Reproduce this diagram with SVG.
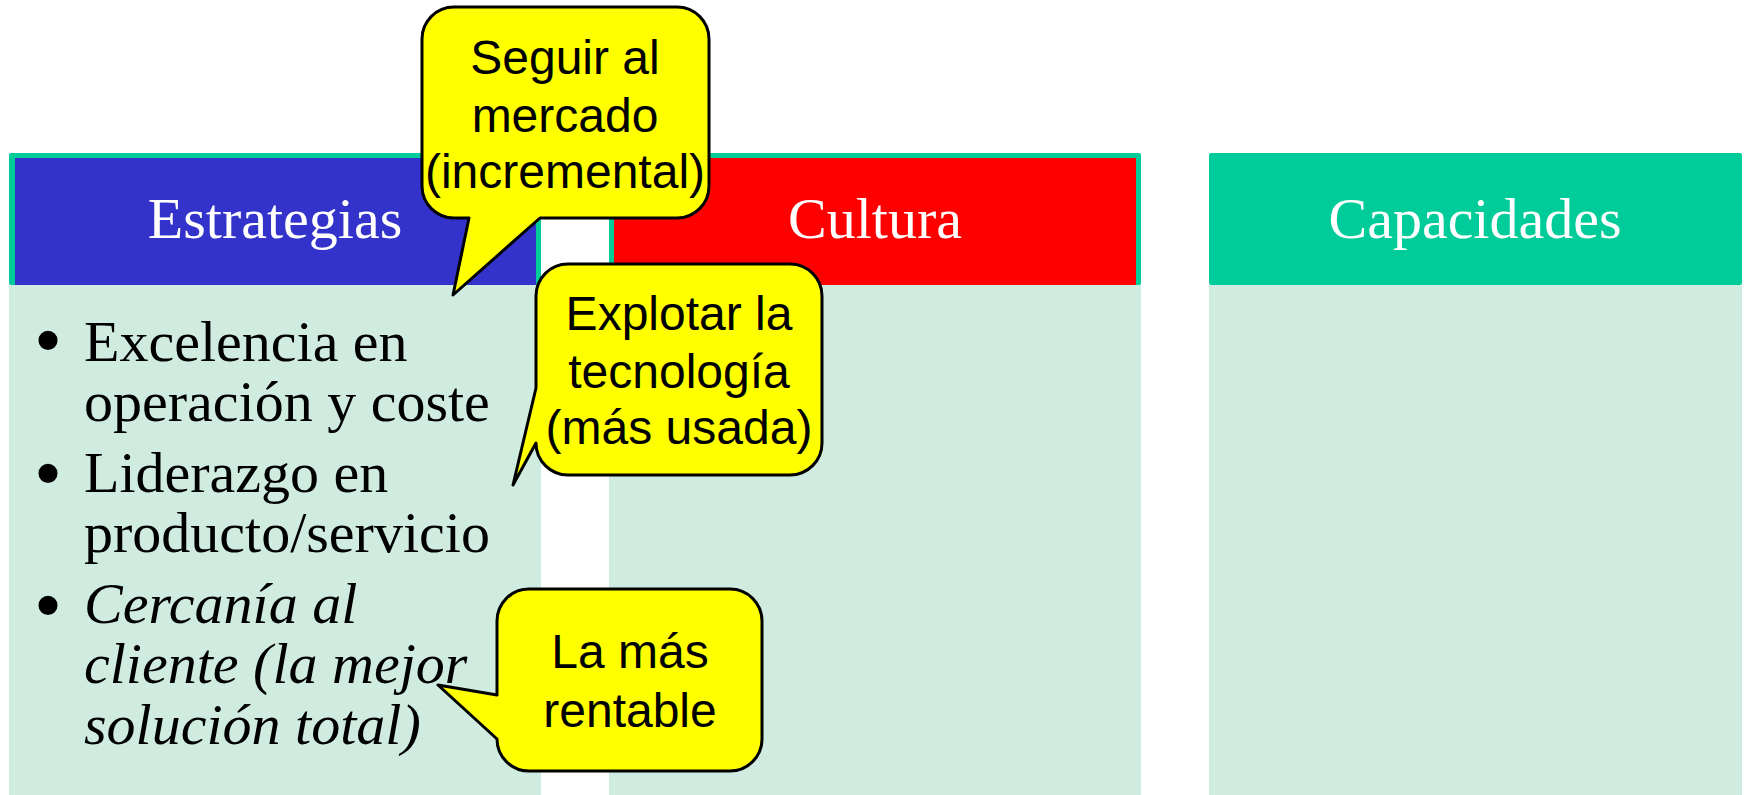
<svg xmlns="http://www.w3.org/2000/svg" width="1756" height="795" viewBox="0 0 1756 795">
<style>
.body{fill:#D0ECE0}
.frame{fill:#00CC99}
.htxt{font-family:"Liberation Serif","Times New Roman",serif;font-size:58px;fill:#FFFFFF;text-anchor:middle}
.btxt{font-family:"Liberation Serif","Times New Roman",serif;font-size:58px;fill:#000000}
.bul{font-family:"Liberation Serif","Times New Roman",serif;font-size:80px;fill:#000000}
.it{font-style:italic}
.call{fill:#FFFF00;stroke:#000000;stroke-width:3;stroke-linejoin:round}
.ctxt{font-family:"Liberation Sans",Arial,sans-serif;font-size:48px;fill:#000000;text-anchor:middle}
</style>
<rect width="1756" height="795" fill="#FFFFFF"/>
<g id="col-estrategias">
<rect class="body" x="9" y="285" width="532" height="510"/>
<rect class="frame" x="9" y="153" width="532" height="132" rx="2"/>
<rect x="15" y="158" width="521" height="127" fill="#3333CC"/>
<text class="htxt" x="275" y="238">Estrategias</text>
<text class="bul" x="34" y="367">•</text>
<text class="btxt" x="84" y="361">Excelencia en</text>
<text class="btxt" x="84" y="421">operación y coste</text>
<text class="bul" x="34" y="500">•</text>
<text class="btxt" x="84" y="492">Liderazgo en</text>
<text class="btxt" x="84" y="552">producto/servicio</text>
<text class="bul" x="34" y="632">•</text>
<text class="btxt it" x="84" y="623">Cercanía al</text>
<text class="btxt it" x="84" y="683">cliente (la mejor</text>
<text class="btxt it" x="84" y="744">solución total)</text>
</g>
<g id="col-cultura">
<rect class="body" x="609" y="285" width="532" height="510"/>
<rect class="frame" x="609" y="153" width="532" height="132" rx="2"/>
<rect x="614" y="158" width="522" height="127" fill="#FF0000"/>
<text class="htxt" x="875" y="238">Cultura</text>
</g>
<g id="col-capacidades">
<rect class="body" x="1209" y="285" width="533" height="510"/>
<rect class="frame" x="1209" y="153" width="533" height="132" rx="2"/>
<text class="htxt" x="1475" y="238">Capacidades</text>
</g>
<g id="connectors"></g>
<g id="callout-seguir">
<path class="call" d="M454,7 H677 A32 32 0 0 1 709,39 V186 A32 32 0 0 1 677,218 H540 L453,295 L469,218 H454 A32 32 0 0 1 422,186 V39 A32 32 0 0 1 454,7 Z"/>
<text class="ctxt" x="565" y="74">Seguir al</text>
<text class="ctxt" x="565" y="132">mercado</text>
<text class="ctxt" x="565" y="188">(incremental)</text>
</g>
<g id="callout-explotar">
<path class="call" d="M568,264 H790 A32 32 0 0 1 822,296 V443 A32 32 0 0 1 790,475 H568 A32 32 0 0 1 536,443 L513,485 L536,388 V296 A32 32 0 0 1 568,264 Z"/>
<text class="ctxt" x="679" y="330">Explotar la</text>
<text class="ctxt" x="679" y="388">tecnología</text>
<text class="ctxt" x="679" y="444">(más usada)</text>
</g>
<g id="callout-rentable">
<path class="call" d="M529,589 H730 A32 32 0 0 1 762,621 V739 A32 32 0 0 1 730,771 H529 A32 32 0 0 1 497,739 L438,685 L497,695 V621 A32 32 0 0 1 529,589 Z"/>
<text class="ctxt" x="630" y="668">La más</text>
<text class="ctxt" x="630" y="727">rentable</text>
</g>
</svg>
